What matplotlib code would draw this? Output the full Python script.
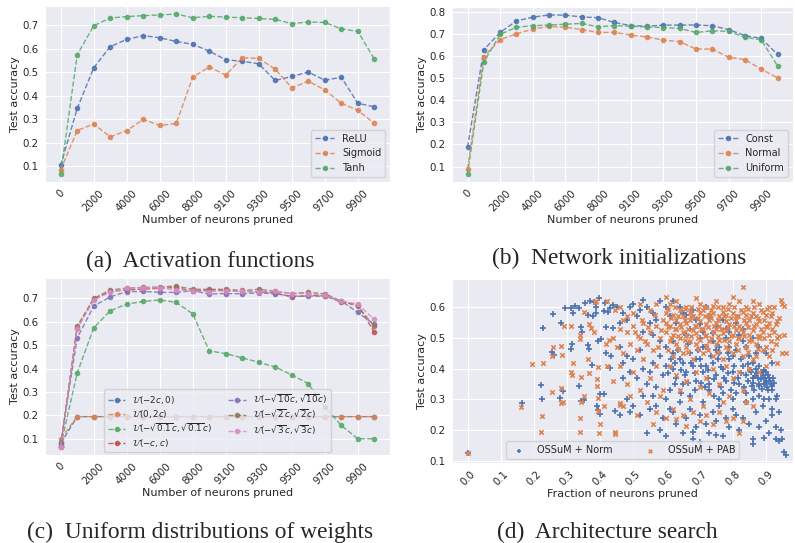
import numpy as np
import matplotlib.pyplot as plt
import seaborn as sns

sns.set_style('darkgrid')
plt.rcParams['font.family'] = ['DejaVu Sans']
plt.rcParams['mathtext.fontset'] = 'dejavusans'

# x axis of the line panels: 20 pruning steps, every second one labelled
tick_labels = ['0', '2000', '4000', '6000', '8000', '9100', '9300', '9500', '9700', '9900']

# (a) activation functions
relu = [0.103, 0.345, 0.518, 0.608, 0.639, 0.655, 0.646, 0.630, 0.618, 0.589,
        0.552, 0.546, 0.535, 0.464, 0.481, 0.500, 0.465, 0.478, 0.367, 0.352]
sigmoid = [0.084, 0.251, 0.279, 0.224, 0.251, 0.298, 0.273, 0.281, 0.478, 0.522,
           0.487, 0.561, 0.558, 0.512, 0.433, 0.461, 0.424, 0.367, 0.337, 0.282]
tanh = [0.066, 0.573, 0.697, 0.730, 0.736, 0.740, 0.743, 0.747, 0.731, 0.737,
        0.734, 0.731, 0.728, 0.724, 0.706, 0.713, 0.711, 0.684, 0.673, 0.555]

# (b) network initializations
const = [0.187, 0.628, 0.706, 0.758, 0.775, 0.785, 0.784, 0.776, 0.773, 0.751,
         0.737, 0.734, 0.739, 0.739, 0.740, 0.736, 0.719, 0.692, 0.679, 0.607]
normal = [0.088, 0.597, 0.673, 0.700, 0.721, 0.733, 0.730, 0.719, 0.706, 0.706,
          0.694, 0.686, 0.671, 0.665, 0.631, 0.631, 0.594, 0.583, 0.540, 0.501]
uniform = tanh

# (c) uniform distributions of weights
u_m2c_0 = [0.080, 0.195, 0.195, 0.195, 0.195, 0.195, 0.195, 0.195, 0.195, 0.195,
           0.195, 0.195, 0.195, 0.195, 0.195, 0.195, 0.195, 0.195, 0.195, 0.195]
u_0_2c = [0.100, 0.195, 0.195, 0.195, 0.195, 0.195, 0.195, 0.195, 0.195, 0.195,
          0.195, 0.195, 0.195, 0.195, 0.195, 0.195, 0.195, 0.195, 0.195, 0.195]
u_sqrt01 = [0.070, 0.381, 0.574, 0.647, 0.676, 0.687, 0.694, 0.683, 0.634, 0.476,
            0.464, 0.446, 0.427, 0.407, 0.373, 0.336, 0.237, 0.157, 0.100, 0.100]
u_c = tanh
u_sqrt10 = [0.080, 0.531, 0.667, 0.707, 0.729, 0.730, 0.726, 0.726, 0.733, 0.719,
            0.721, 0.720, 0.724, 0.720, 0.710, 0.710, 0.710, 0.689, 0.640, 0.589]
u_sqrt2 = [0.070, 0.581, 0.700, 0.736, 0.744, 0.747, 0.749, 0.753, 0.739, 0.739,
           0.739, 0.734, 0.739, 0.731, 0.721, 0.726, 0.720, 0.689, 0.667, 0.581]
u_sqrt3 = [0.065, 0.571, 0.693, 0.727, 0.743, 0.746, 0.746, 0.736, 0.733, 0.729,
           0.733, 0.730, 0.729, 0.731, 0.721, 0.721, 0.713, 0.689, 0.676, 0.610]

# (d) architecture search: (fraction pruned, test accuracy)
norm_pts = [
    (0.0, 0.124), (0.164, 0.287), (0.221, 0.347), (0.226, 0.301), (0.227, 0.534), (0.259, 0.577),
    (0.282, 0.550), (0.254, 0.454), (0.26, 0.445), (0.288, 0.329), (0.280, 0.306), (0.312, 0.464),
    (0.315, 0.481), (0.337, 0.344), (0.341, 0.296), (0.351, 0.297), (0.323, 0.603), (0.319, 0.580),
    (0.341, 0.535), (0.344, 0.521), (0.364, 0.478), (0.366, 0.465), (0.312, 0.599), (0.337, 0.599),
    (0.354, 0.615), (0.368, 0.620), (0.382, 0.618), (0.397, 0.631), (0.364, 0.575), (0.379, 0.572),
    (0.387, 0.581), (0.375, 0.412), (0.400, 0.317), (0.413, 0.317), (0.390, 0.279), (0.393, 0.266),
    (0.400, 0.252), (0.445, 0.261), (0.459, 0.250), (0.389, 0.602), (0.411, 0.588), (0.424, 0.586),
    (0.429, 0.599), (0.438, 0.607), (0.415, 0.613), (0.419, 0.535), (0.440, 0.533), (0.394, 0.489),
    (0.404, 0.497), (0.419, 0.450), (0.434, 0.442), (0.429, 0.403), (0.470, 0.369), (0.295, 0.598),
    (0.45, 0.60), (0.47, 0.58), (0.49, 0.60), (0.50, 0.61), (0.53, 0.625), (0.52, 0.59), (0.48, 0.56),
    (0.46, 0.55), (0.51, 0.57), (0.54, 0.60), (0.56, 0.58), (0.55, 0.55), (0.58, 0.62), (0.57, 0.56),
    (0.46, 0.47), (0.48, 0.44), (0.50, 0.43), (0.52, 0.46), (0.53, 0.40), (0.55, 0.39), (0.56, 0.42),
    (0.58, 0.44), (0.59, 0.38), (0.54, 0.35), (0.57, 0.34), (0.47, 0.42), (0.49, 0.39), (0.51, 0.37),
    (0.60, 0.41), (0.60, 0.47), (0.58, 0.49), (0.56, 0.51), (0.53, 0.52), (0.62, 0.45),
    (0.48, 0.30), (0.50, 0.28), (0.52, 0.25), (0.54, 0.19), (0.55, 0.27), (0.56, 0.31), (0.57, 0.28),
    (0.58, 0.20), (0.59, 0.24), (0.60, 0.30), (0.61, 0.27), (0.60, 0.18), (0.53, 0.31), (0.49, 0.26),
    (0.62, 0.40), (0.63, 0.37), (0.64, 0.43), (0.65, 0.35), (0.66, 0.39), (0.67, 0.45), (0.68, 0.41),
    (0.69, 0.36), (0.70, 0.43), (0.71, 0.39), (0.72, 0.47), (0.73, 0.35), (0.74, 0.42), (0.75, 0.38),
    (0.76, 0.45), (0.77, 0.40), (0.78, 0.36), (0.79, 0.43), (0.80, 0.39), (0.81, 0.46), (0.82, 0.35),
    (0.83, 0.41), (0.84, 0.38), (0.85, 0.44), (0.86, 0.37), (0.87, 0.40), (0.88, 0.35), (0.89, 0.38),
    (0.90, 0.36), (0.91, 0.37), (0.905, 0.34), (0.915, 0.35), (0.92, 0.33), (0.875, 0.37), (0.885, 0.39),
    (0.895, 0.35), (0.865, 0.33), (0.855, 0.39), (0.845, 0.36), (0.835, 0.34), (0.825, 0.43),
    (0.815, 0.37), (0.805, 0.41), (0.795, 0.33), (0.785, 0.45), (0.775, 0.37), (0.765, 0.34),
    (0.755, 0.43), (0.745, 0.31), (0.735, 0.44), (0.725, 0.37), (0.715, 0.34), (0.705, 0.41),
    (0.695, 0.46), (0.685, 0.33), (0.675, 0.42), (0.665, 0.48), (0.655, 0.38), (0.645, 0.32),
    (0.635, 0.46), (0.625, 0.35), (0.615, 0.43), (0.72, 0.41), (0.76, 0.47), (0.80, 0.44), (0.84, 0.47),
    (0.86, 0.42), (0.88, 0.41), (0.90, 0.39), (0.83, 0.49), (0.87, 0.45), (0.70, 0.50), (0.74, 0.49),
    (0.78, 0.50), (0.66, 0.51), (0.62, 0.49), (0.91, 0.30), (0.93, 0.30), (0.92, 0.27), (0.935, 0.31),
    (0.895, 0.30), (0.61, 0.57), (0.63, 0.55), (0.65, 0.58), (0.67, 0.53), (0.69, 0.56), (0.71, 0.52),
    (0.73, 0.57), (0.75, 0.54), (0.77, 0.56), (0.79, 0.52), (0.81, 0.55), (0.64, 0.60), (0.68, 0.59),
    (0.72, 0.60), (0.83, 0.53),
    (0.852, 0.395), (0.862, 0.355), (0.872, 0.385), (0.878, 0.345), (0.884, 0.365), (0.892, 0.39),
    (0.898, 0.37), (0.902, 0.355), (0.908, 0.38), (0.912, 0.36), (0.918, 0.345), (0.922, 0.37),
    (0.926, 0.355), (0.868, 0.375), (0.888, 0.335), (0.906, 0.33), (0.858, 0.345), (0.895, 0.395),
    (0.605, 0.385), (0.625, 0.42), (0.645, 0.395), (0.665, 0.355), (0.685, 0.385), (0.705, 0.355),
    (0.725, 0.395), (0.745, 0.365), (0.765, 0.405), (0.785, 0.385), (0.805, 0.355), (0.825, 0.385),
    (0.845, 0.415), (0.71, 0.47), (0.75, 0.46), (0.79, 0.47), (0.73, 0.33), (0.77, 0.32), (0.81, 0.32),
    (0.69, 0.43), (0.65, 0.42), (0.61, 0.33), (0.67, 0.31), (0.76, 0.30), (0.80, 0.30), (0.84, 0.32),
    (0.88, 0.31), (0.86, 0.30), (0.60, 0.60), (0.62, 0.62), (0.66, 0.575), (0.70, 0.545), (0.74, 0.515),
    (0.78, 0.53), (0.82, 0.51), (0.86, 0.50), (0.88, 0.47), (0.90, 0.45), (0.92, 0.42),
    (0.62, 0.26), (0.63, 0.22), (0.64, 0.29), (0.65, 0.19), (0.66, 0.24), (0.67, 0.27), (0.68, 0.17),
    (0.69, 0.21), (0.70, 0.25), (0.71, 0.29), (0.72, 0.22), (0.73, 0.19), (0.74, 0.26), (0.75, 0.23),
    (0.76, 0.28), (0.77, 0.18), (0.78, 0.24), (0.79, 0.21), (0.80, 0.27), (0.81, 0.25), (0.82, 0.20),
    (0.83, 0.24), (0.84, 0.29), (0.85, 0.22), (0.86, 0.17), (0.87, 0.26), (0.88, 0.21), (0.89, 0.28),
    (0.90, 0.23), (0.91, 0.19), (0.92, 0.25), (0.93, 0.21), (0.94, 0.26), (0.945, 0.20), (0.93, 0.17),
    (0.95, 0.17), (0.955, 0.13), (0.96, 0.12), (0.94, 0.165), (0.895, 0.175), (0.86, 0.155),
    (0.75, 0.185), (0.68, 0.195), (0.70, 0.16),
]
pab_pts = [
    (0.0, 0.125), (0.194, 0.416), (0.227, 0.420), (0.257, 0.472), (0.255, 0.440), (0.282, 0.474),
    (0.286, 0.444), (0.311, 0.539), (0.290, 0.539), (0.162, 0.274), (0.221, 0.193), (0.226, 0.247),
    (0.254, 0.325), (0.282, 0.336), (0.282, 0.288), (0.289, 0.293), (0.312, 0.388), (0.314, 0.380),
    (0.318, 0.419), (0.339, 0.510), (0.338, 0.496), (0.338, 0.241), (0.339, 0.195), (0.343, 0.374),
    (0.350, 0.312), (0.342, 0.293), (0.363, 0.430), (0.365, 0.386), (0.386, 0.617), (0.389, 0.620),
    (0.350, 0.583), (0.366, 0.545), (0.373, 0.532), (0.381, 0.519), (0.393, 0.407), (0.390, 0.366),
    (0.391, 0.344), (0.395, 0.306), (0.393, 0.262), (0.400, 0.219), (0.398, 0.190), (0.413, 0.277),
    (0.421, 0.409), (0.417, 0.480), (0.427, 0.494), (0.421, 0.620), (0.445, 0.590), (0.446, 0.195),
    (0.445, 0.186), (0.459, 0.282), (0.461, 0.288), (0.470, 0.558),
    (0.44, 0.50), (0.45, 0.47), (0.46, 0.53), (0.47, 0.45), (0.48, 0.52), (0.49, 0.48), (0.50, 0.54),
    (0.51, 0.46), (0.52, 0.50), (0.53, 0.55), (0.54, 0.48), (0.55, 0.52), (0.56, 0.46), (0.57, 0.54),
    (0.58, 0.50), (0.59, 0.56), (0.44, 0.36), (0.46, 0.41), (0.48, 0.35), (0.50, 0.39), (0.52, 0.33),
    (0.53, 0.43), (0.55, 0.37), (0.57, 0.41), (0.58, 0.31), (0.47, 0.28), (0.49, 0.31), (0.51, 0.25),
    (0.54, 0.29), (0.56, 0.22), (0.57, 0.26), (0.59, 0.33), (0.60, 0.24), (0.50, 0.58), (0.52, 0.61),
    (0.55, 0.59), (0.57, 0.61), (0.46, 0.60), (0.48, 0.57), (0.60, 0.635),
    (0.505, 0.52), (0.525, 0.56), (0.545, 0.535), (0.565, 0.575), (0.585, 0.525), (0.535, 0.49),
    (0.575, 0.47), (0.515, 0.505),
    (0.61, 0.61), (0.63, 0.62), (0.66, 0.60), (0.69, 0.63), (0.70, 0.61), (0.72, 0.60), (0.75, 0.62),
    (0.77, 0.60), (0.79, 0.61), (0.82, 0.62), (0.83, 0.665), (0.84, 0.60), (0.86, 0.62), (0.88, 0.61),
    (0.91, 0.60), (0.945, 0.625), (0.95, 0.61), (0.955, 0.605), (0.74, 0.605), (0.80, 0.635),
    (0.605, 0.595), (0.625, 0.60), (0.655, 0.595), (0.675, 0.60), (0.695, 0.595), (0.715, 0.60),
    (0.735, 0.59), (0.755, 0.60), (0.785, 0.595), (0.805, 0.60), (0.825, 0.59), (0.845, 0.595),
    (0.865, 0.60), (0.885, 0.59), (0.905, 0.595), (0.925, 0.60),
    (0.60, 0.58), (0.62, 0.575), (0.64, 0.59), (0.65, 0.57), (0.67, 0.585), (0.68, 0.57), (0.70, 0.58),
    (0.71, 0.59), (0.73, 0.575), (0.74, 0.58), (0.76, 0.57), (0.77, 0.585), (0.78, 0.575), (0.80, 0.58),
    (0.81, 0.57), (0.83, 0.585), (0.84, 0.575), (0.86, 0.58), (0.87, 0.57), (0.89, 0.585), (0.90, 0.575),
    (0.92, 0.58), (0.94, 0.565),
    (0.615, 0.565), (0.635, 0.57), (0.655, 0.56), (0.675, 0.57), (0.695, 0.565), (0.715, 0.57),
    (0.735, 0.565), (0.755, 0.56), (0.775, 0.57), (0.795, 0.565), (0.815, 0.57), (0.835, 0.56),
    (0.855, 0.57), (0.875, 0.565), (0.895, 0.56), (0.915, 0.57), (0.935, 0.555),
    (0.60, 0.55), (0.61, 0.54), (0.63, 0.56), (0.64, 0.545), (0.66, 0.55), (0.67, 0.56), (0.69, 0.54),
    (0.70, 0.555), (0.72, 0.545), (0.73, 0.56), (0.75, 0.55), (0.76, 0.54), (0.78, 0.555), (0.79, 0.545),
    (0.81, 0.56), (0.82, 0.54), (0.84, 0.55), (0.85, 0.56), (0.87, 0.545), (0.88, 0.555), (0.90, 0.54),
    (0.91, 0.55), (0.93, 0.545),
    (0.605, 0.535), (0.625, 0.53), (0.645, 0.535), (0.665, 0.53), (0.685, 0.54), (0.705, 0.53),
    (0.725, 0.535), (0.745, 0.54), (0.765, 0.53), (0.785, 0.535), (0.805, 0.54), (0.825, 0.53),
    (0.845, 0.535), (0.865, 0.54), (0.885, 0.53), (0.905, 0.535), (0.925, 0.52),
    (0.60, 0.52), (0.62, 0.51), (0.63, 0.53), (0.65, 0.52), (0.66, 0.51), (0.68, 0.525), (0.69, 0.515),
    (0.71, 0.53), (0.72, 0.51), (0.74, 0.52), (0.75, 0.53), (0.77, 0.515), (0.78, 0.525), (0.80, 0.51),
    (0.81, 0.525), (0.83, 0.52), (0.85, 0.51), (0.86, 0.525), (0.88, 0.505), (0.89, 0.52), (0.91, 0.51),
    (0.92, 0.53), (0.94, 0.505), (0.955, 0.51),
    (0.615, 0.50), (0.635, 0.505), (0.655, 0.495), (0.675, 0.505), (0.695, 0.50), (0.715, 0.505),
    (0.735, 0.50), (0.755, 0.505), (0.775, 0.495), (0.795, 0.505), (0.815, 0.50), (0.835, 0.505),
    (0.855, 0.495), (0.875, 0.505), (0.895, 0.50), (0.915, 0.49), (0.935, 0.50),
    (0.61, 0.49), (0.63, 0.48), (0.64, 0.50), (0.66, 0.47), (0.67, 0.49), (0.69, 0.48), (0.70, 0.495),
    (0.72, 0.475), (0.73, 0.49), (0.75, 0.48), (0.76, 0.495), (0.78, 0.47), (0.79, 0.49), (0.81, 0.48),
    (0.82, 0.50), (0.84, 0.47), (0.85, 0.49), (0.87, 0.48), (0.88, 0.50), (0.90, 0.47), (0.92, 0.46),
    (0.93, 0.48), (0.95, 0.45), (0.96, 0.45),
    (0.605, 0.46), (0.635, 0.465), (0.665, 0.455), (0.695, 0.465), (0.725, 0.46), (0.755, 0.455),
    (0.785, 0.465), (0.815, 0.46), (0.845, 0.455), (0.875, 0.465),
    (0.62, 0.44), (0.65, 0.45), (0.68, 0.43), (0.71, 0.45), (0.74, 0.44), (0.77, 0.43), (0.80, 0.45),
    (0.83, 0.44), (0.86, 0.43), (0.89, 0.46), (0.91, 0.44), (0.935, 0.42),
    (0.61, 0.41), (0.63, 0.38), (0.64, 0.33), (0.66, 0.36), (0.67, 0.30), (0.69, 0.39), (0.70, 0.34),
    (0.71, 0.28), (0.72, 0.37), (0.73, 0.32), (0.74, 0.40), (0.76, 0.35), (0.77, 0.29), (0.78, 0.41),
    (0.79, 0.31), (0.80, 0.37), (0.82, 0.39), (0.83, 0.33), (0.85, 0.40), (0.86, 0.28), (0.62, 0.27),
    (0.63, 0.235), (0.65, 0.25), (0.66, 0.215), (0.68, 0.26), (0.70, 0.23), (0.72, 0.25), (0.74, 0.22),
    (0.76, 0.26), (0.78, 0.23), (0.80, 0.24), (0.82, 0.19), (0.84, 0.29), (0.83, 0.23), (0.88, 0.39),
    (0.90, 0.41), (0.87, 0.44),
]
frac_ticks = [0.0, 0.1, 0.2, 0.3, 0.4, 0.5, 0.6, 0.7, 0.8, 0.9]

pal = sns.color_palette('deep')
TICK = 7.4
LAB = 8
LEG = 7

fig = plt.figure(figsize=(7.95, 5.43), dpi=100)
W, H = 795.0, 543.0


def add_ax(left, top, right, bottom):
    return fig.add_axes([left / W, 1 - bottom / H, (right - left) / W, (bottom - top) / H])


def line_panel(ax, series, labels, legend_kw):
    x = np.arange(len(series[0]))
    for i, (vals, lab) in enumerate(zip(series, labels)):
        ax.plot(x, vals, ls='--', marker='o', ms=3, lw=1, color=pal[i], alpha=0.85, label=lab)
    ax.set_xticks(x[::2])
    ax.set_xticklabels(tick_labels, rotation=45)
    ax.tick_params(labelsize=TICK, pad=1)
    ax.set_xlabel('Number of neurons pruned', fontsize=LAB, labelpad=1)
    ax.set_ylabel('Test accuracy', fontsize=LAB, labelpad=2)
    ax.legend(**legend_kw)


ax_a = add_ax(45, 6, 390, 182)
line_panel(ax_a, [relu, sigmoid, tanh], ['ReLU', 'Sigmoid', 'Tanh'],
           dict(loc='lower right', fontsize=LEG))

ax_b = add_ax(452, 7, 793, 182)
line_panel(ax_b, [const, normal, uniform], ['Const', 'Normal', 'Uniform'],
           dict(loc='lower right', fontsize=LEG))

ax_c = add_ax(45, 278, 390, 455)
c_labels = [r'$\mathcal{U}(-2c, 0)$', r'$\mathcal{U}(0, 2c)$',
            r'$\mathcal{U}(-\sqrt{0.1}c, \sqrt{0.1}c)$', r'$\mathcal{U}(-c, c)$',
            r'$\mathcal{U}(-\sqrt{10}c, \sqrt{10}c)$', r'$\mathcal{U}(-\sqrt{2}c, \sqrt{2}c)$',
            r'$\mathcal{U}(-\sqrt{3}c, \sqrt{3}c)$']
line_panel(ax_c, [u_m2c_0, u_0_2c, u_sqrt01, u_c, u_sqrt10, u_sqrt2, u_sqrt3], c_labels,
           dict(loc='lower center', ncol=2, fontsize=6.3, labelspacing=0.2,
                columnspacing=1.8, handlelength=2, borderaxespad=0.3))

ax_d = add_ax(452, 279, 793, 463)
norm = np.array(norm_pts).T
pab = np.array(pab_pts).T
ax_d.scatter(norm[0], norm[1], marker='+', s=14, lw=1.2, color=pal[0], label='OSSuM + Norm')
ax_d.scatter(pab[0], pab[1], marker='x', s=10, lw=1.2, color=pal[1], label='OSSuM + PAB')
ax_d.set_xlim(-0.047, 0.982)
ax_d.set_ylim(0.093, 0.692)
ax_d.set_xticks(frac_ticks)
ax_d.set_xticklabels([f'{v:.1f}' for v in frac_ticks], rotation=45)
ax_d.tick_params(labelsize=TICK, pad=1)
ax_d.set_xlabel('Fraction of neurons pruned', fontsize=LAB, labelpad=1)
ax_d.set_ylabel('Test accuracy', fontsize=LAB, labelpad=2)
ax_d.legend(fontsize=LEG, loc='lower center', ncol=2, columnspacing=2.9, markerscale=0.8,
            borderaxespad=0.4)

cap = dict(family='Liberation Serif', fontsize=16.8, ha='center', va='center')
fig.text(200 / W, 1 - 261 / H, '(a)  Activation functions', **cap)
fig.text(619 / W, 1 - 258 / H, '(b)  Network initializations', **cap)
fig.text(200 / W, 1 - 532 / H, '(c)  Uniform distributions of weights', **cap)
fig.text(607 / W, 1 - 532 / H, '(d)  Architecture search', **cap)

fig.savefig('out.png', dpi=100)
plt.close()
